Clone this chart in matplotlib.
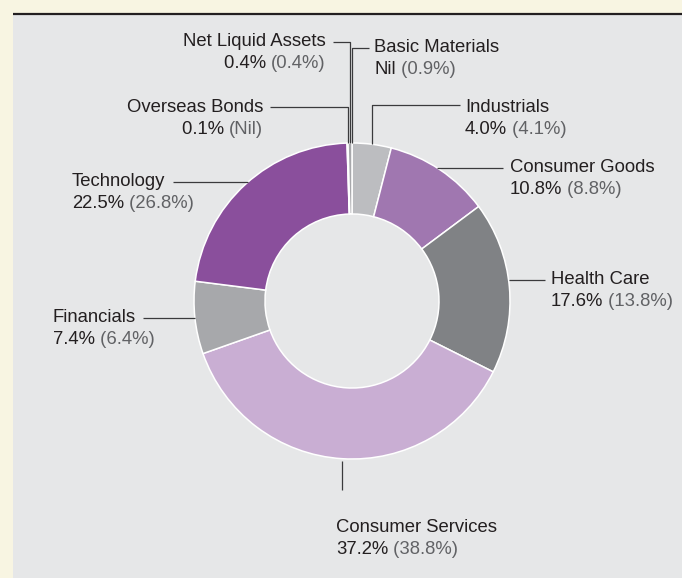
import matplotlib
matplotlib.use('Agg')
import matplotlib.pyplot as plt
import matplotlib.patches as mpatches
import numpy as np

plt.rcParams['font.family'] = ['Liberation Sans', 'DejaVu Sans']

W, H = 682, 578

# sector data, clockwise from 12 o'clock
sectors = ['Industrials', 'Consumer Goods', 'Health Care', 'Consumer Services',
           'Financials', 'Technology', 'Overseas Bonds', 'Net Liquid Assets',
           'Basic Materials']
current = [4.0, 10.8, 17.6, 37.2, 7.4, 22.5, 0.1, 0.4, 0.0]
current_txt = ['4.0%', '10.8%', '17.6%', '37.2%', '7.4%', '22.5%', '0.1%', '0.4%', 'Nil']
previous_txt = ['(4.1%)', '(8.8%)', '(13.8%)', '(38.8%)', '(6.4%)', '(26.8%)',
                '(Nil)', '(0.4%)', '(0.9%)']
colors = ['#bcbdc0', '#a077b0', '#808285', '#c9aed3', '#a7a8ab', '#8a4f9c',
          '#8c8d90', '#a7a8ab', '#bcbdc0']

BG = '#f8f5e2'
PANEL = '#e6e7e8'
DARK = '#231f20'
GREY_TXT = '#616265'
LINE = '#3a3a3c'
FS = 13.3

CX, CY, R, RING = 352, 301, 158, 71

# label layout (pixel coords, y down): text x, first line y, alignment,
# leader type, leader end x / elbow y
layout = {
    'Net Liquid Assets': dict(tx=326, ty=42, ha='right', kind='elbow', ly=42, lx=333),
    'Overseas Bonds': dict(tx=263, ty=107, ha='right', kind='elbow', ly=107, lx=270),
    'Basic Materials': dict(tx=374, ty=47, ha='left', kind='elbow', ly=48, lx=369),
    'Industrials': dict(tx=465, ty=107, ha='left', kind='elbow', ly=105, lx=460),
    'Consumer Goods': dict(tx=510, ty=167, ha='left', kind='h', ly=168, lx=503),
    'Health Care': dict(tx=551, ty=280, ha='left', kind='h', ly=280, lx=545),
    'Technology': dict(tx=72, ty=182, ha='left', kind='h', ly=182, lx=173),
    'Financials': dict(tx=53, ty=318, ha='left', kind='h', ly=318, lx=143),
    'Consumer Services': dict(tx=336, ty=528, ha='left', kind='down', ly=490, lx=None),
}


def fy(y):
    return H - y


fig = plt.figure(figsize=(W / 100, H / 100), dpi=100)
fig.patch.set_facecolor(BG)
ax = fig.add_axes([0, 0, 1, 1])
ax.set_axis_off()

ax.add_patch(mpatches.Rectangle((13, 0), W - 13, fy(14), facecolor=PANEL,
                                edgecolor='none', zorder=0))
ax.plot([13, W], [fy(14), fy(14)], color=DARK, lw=1.6, zorder=1,
        solid_capstyle='butt')

vals = [v for v in current if v > 0]
cols = [c for v, c in zip(current, colors) if v > 0]
wedges, _ = ax.pie(vals, colors=cols, startangle=90, counterclock=False,
                   radius=R, center=(CX, fy(CY)),
                   wedgeprops=dict(width=RING, edgecolor='white', linewidth=1.1))

mid_angle = {}
k = 0
for name, v in zip(sectors, current):
    if v > 0:
        w = wedges[k]
        mid_angle[name] = np.deg2rad((w.theta1 + w.theta2) / 2)
        k += 1
    else:
        mid_angle[name] = np.deg2rad(90)

for name, cur, prev in zip(sectors, current_txt, previous_txt):
    L = layout[name]
    a = mid_angle[name]
    kind = L['kind']
    if kind == 'h':
        dy = L['ly'] - CY
        dx = np.sqrt(R ** 2 - dy ** 2) * np.sign(np.cos(a))
        xs = [CX + dx, L['lx']]
        ys = [fy(L['ly']), fy(L['ly'])]
    elif kind == 'elbow':
        ax_ = CX + R * np.cos(a)
        ay_ = CY - R * np.sin(a)
        xs = [ax_, ax_, L['lx']]
        ys = [fy(ay_), fy(L['ly']), fy(L['ly'])]
    else:
        ax_ = CX + R * np.cos(a)
        ay_ = CY - R * np.sin(a)
        xs = [ax_, ax_]
        ys = [fy(ay_ + 2), fy(L['ly'])]
    ax.plot(xs, ys, color=LINE, lw=0.9, zorder=3, solid_capstyle='butt')

    ax.text(L['tx'], fy(L['ty']), name, ha=L['ha'], va='center',
            fontsize=FS, color=DARK, zorder=4)
    y2 = fy(L['ty'] + 22)
    if L['ha'] == 'left':
        t1 = ax.text(L['tx'], y2, cur, ha='left', va='center', fontsize=FS,
                     color=DARK, zorder=4)
        ax.annotate(' ' + prev, xy=(1, 0.5), xycoords=t1, ha='left', va='center',
                    fontsize=FS, color=GREY_TXT, zorder=4)
    else:
        t2 = ax.text(L['tx'], y2, prev, ha='right', va='center', fontsize=FS,
                     color=GREY_TXT, zorder=4)
        ax.annotate(cur + ' ', xy=(0, 0.5), xycoords=t2, ha='right', va='center',
                    fontsize=FS, color=DARK, zorder=4)

ax.set_xlim(0, W)
ax.set_ylim(0, H)
ax.set_aspect('auto')

fig.savefig('out.png', dpi=100, facecolor=fig.get_facecolor())
